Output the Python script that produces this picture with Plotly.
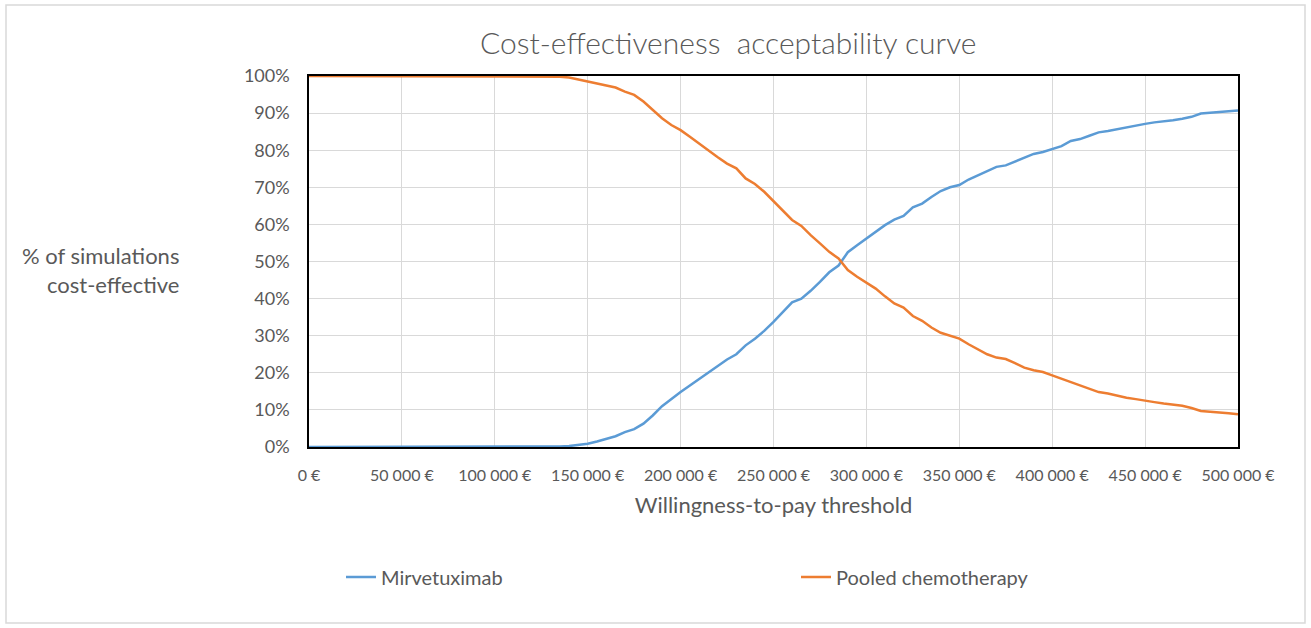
import plotly.graph_objects as go

wtp = list(range(0, 500001, 5000))

mirvetuximab = [0.0] * 25 + [
    0.05, 0.1, 0.15, 0.25, 0.5, 0.9,
    1.5, 2.2, 2.9, 4.0, 4.8, 6.3, 8.5, 11.0, 13.0, 14.8,
    16.6, 18.4, 20.2, 22.0, 23.6, 25.0, 27.4, 29.2, 31.3, 33.7,
    36.4, 39.0, 40.0, 42.1, 44.5, 47.1, 48.9, 52.5, 54.4, 56.2,
    58.0, 59.8, 61.3, 62.3, 64.6, 65.6, 67.4, 69.0, 70.0, 70.6,
    72.1, 73.3, 74.5, 75.5, 75.9, 77.0, 78.1, 79.0, 79.5, 80.3,
    81.1, 82.5, 83.0, 83.9, 84.8, 85.2, 85.7, 86.2, 86.7, 87.1,
    87.5, 87.9, 88.1, 88.5, 89.0, 89.9, 90.1, 90.2, 90.5, 90.7,
]

pooled_chemo = [100.0] * 25 + [
    99.95, 99.9, 99.8, 99.6, 99.1, 98.5,
    98.0, 97.6, 96.9, 95.8, 94.9, 93.1, 90.8, 88.6, 86.8, 85.4,
    83.6, 81.7, 79.8, 78.1, 76.4, 75.1, 72.4, 70.9, 68.8, 66.3,
    63.8, 61.2, 59.6, 57.1, 54.9, 52.6, 50.8, 47.7, 45.9, 44.3,
    42.7, 40.6, 38.7, 37.6, 35.3, 34.0, 32.2, 30.8, 30.1, 29.2,
    27.7, 26.3, 25.0, 24.1, 23.7, 22.6, 21.4, 20.7, 20.2, 19.3,
    18.4, 17.3, 16.6, 15.7, 14.8, 14.4, 13.8, 13.3, 12.9, 12.4,
    12.1, 11.7, 11.5, 11.1, 10.5, 9.7, 9.5, 9.4, 9.1, 8.8,
]

x_tickvals = list(range(0, 500001, 50000))
x_ticktext = ["0 €", "50 000 €", "100 000 €", "150 000 €", "200 000 €", "250 000 €",
              "300 000 €", "350 000 €", "400 000 €", "450 000 €", "500 000 €"]
y_tickvals = [i / 10 for i in range(11)]

FONT = "Lato"
GREY = "#595959"

fig = go.Figure()
fig.add_trace(go.Scatter(x=wtp, y=[v / 100 for v in mirvetuximab], mode="lines",
                         name="Mirvetuximab", line=dict(color="#5B9BD5", width=2.5)))
fig.add_trace(go.Scatter(x=wtp, y=[v / 100 for v in pooled_chemo], mode="lines",
                         name="Pooled chemotherapy", line=dict(color="#ED7D31", width=2.5)))

fig.update_layout(
    width=1311, height=628,
    margin=dict(l=309, r=73, t=76, b=181),
    paper_bgcolor="white", plot_bgcolor="white",
    font=dict(family=FONT, color=GREY, size=16),
    title=dict(text="Cost-effectiveness  acceptability curve", x=0.5555, xanchor="center",
               y=1 - 43 / 628, yanchor="middle",
               font=dict(family=FONT, size=30, color=GREY, weight=300)),
    showlegend=True,
    legend=dict(orientation="h", x=(341 - 309) / 929, xanchor="left",
                y=(447 - 577) / 371, yanchor="middle", entrywidth=410,
                font=dict(family=FONT, size=20, color=GREY), bgcolor="rgba(0,0,0,0)"),
    xaxis=dict(range=[0, 500000], tickvals=x_tickvals, ticktext=x_ticktext,
               showgrid=True, gridcolor="#D9D9D9", gridwidth=1,
               showline=True, linecolor="black", linewidth=1.5, mirror=True,
               ticks="", zeroline=False, ticklabelstandoff=13,
               tickfont=dict(family=FONT, size=16, color=GREY),
               title=dict(text="Willingness-to-pay threshold", standoff=15,
                          font=dict(family=FONT, size=22, color=GREY))),
    yaxis=dict(range=[0, 1], tickvals=y_tickvals, tickformat=".0%",
               showgrid=True, gridcolor="#D9D9D9", gridwidth=1,
               showline=True, linecolor="black", linewidth=1.5, mirror=True,
               ticks="", zeroline=False, ticklabelstandoff=14,
               tickfont=dict(family=FONT, size=18, color=GREY)),
)

fig.add_annotation(text="% of simulations<br>cost-effective", xref="paper", yref="paper",
                   x=(181 - 309) / 929, y=(447 - 270) / 371, xanchor="right", yanchor="middle",
                   align="right", showarrow=False,
                   font=dict(family=FONT, size=22, color=GREY))

fig.add_shape(type="rect", xref="paper", yref="paper",
              x0=(6 - 309) / 929, x1=(1305 - 309) / 929,
              y0=(447 - 623) / 371, y1=(447 - 5) / 371,
              line=dict(color="#D9D9D9", width=1.5), fillcolor="rgba(0,0,0,0)", layer="below")

fig.write_html("out.html")
